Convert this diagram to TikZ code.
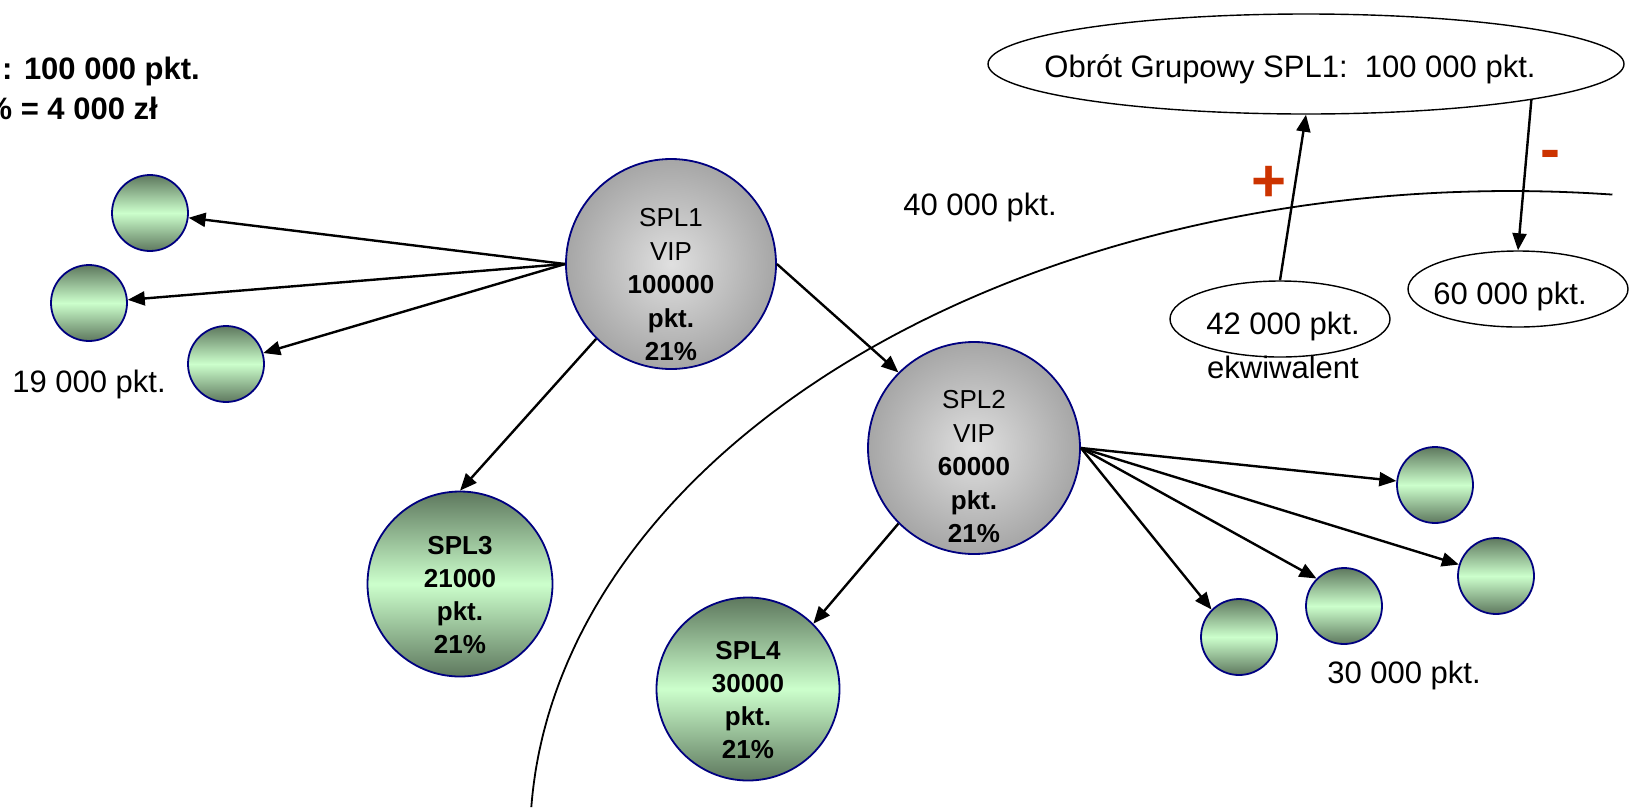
\documentclass[tikz,border=0pt]{standalone}
\usepackage{fontspec}
\setmainfont{Liberation Sans}
\usetikzlibrary{shapes.geometric,arrows.meta}
\definecolor{navyc}{RGB}{0,0,128}
\definecolor{gdark}{RGB}{94,120,94}
\definecolor{glight}{RGB}{204,255,204}
\definecolor{gin}{RGB}{224,224,224}
\definecolor{gout}{RGB}{166,166,166}
\definecolor{signred}{RGB}{204,51,0}
\pgfdeclareradialshading{grayshade}{\pgfpoint{0bp}{0bp}}{color(0bp)=(gin); color(25bp)=(gout); color(50bp)=(gout)}
\tikzset{
  greenball/.style={circle, draw=navyc, line width=1.8pt, top color=gdark, bottom color=gdark, middle color=glight, inner sep=0pt},
  grayball/.style={circle, draw=navyc, line width=1.8pt, shade, shading=grayshade, inner sep=0pt},
  conn/.style={line width=2.4pt, -{Triangle[length=17pt,width=14pt]}},
  oval/.style={ellipse, draw, line width=1.4pt, inner sep=0pt},
  lbl/.style={font=\fontsize{31}{37}\selectfont, inner sep=0pt},
  ctext/.style={align=center, font=\fontsize{26}{33.5}\selectfont, inner sep=0pt},
  toptext/.style={font=\fontsize{31}{37}\selectfont\bfseries, inner sep=0pt, anchor=east},
  sign/.style={font=\fontsize{60}{60}\selectfont\bfseries, text=signred, inner sep=0pt},
}
\begin{document}
\begin{tikzpicture}[x=1pt,y=-1pt]
\useasboundingbox (0,0) rectangle (1635,807);
% big arc
\draw[line width=1.8pt] plot[domain=84:177.1, samples=150] ({1510+980*cos(\x)}, {840-649*sin(\x)});
% top-left text (cut by the left edge)
\begin{scope}
\clip (0,0) rectangle (1635,807);
\node[toptext] (tl1) at (200,71) {: 100 000 pkt.};
\node[toptext] (tl2) at (158,108) {\% = 4 000 zł};
\end{scope}
% main circles
\node[grayball, minimum size=210pt] (s1) at (671,264) {};
\node[ctext] (s1t) at (671,285) {SPL1\\VIP\\\textbf{100000}\\\textbf{pkt.}\\\textbf{21\%}};
\node[grayball, minimum size=212pt] (s2) at (974,448) {};
\node[ctext] (s2t) at (974,467) {SPL2\\VIP\\\textbf{60000}\\\textbf{pkt.}\\\textbf{21\%}};
\node[greenball, minimum size=185pt] (s3) at (460,584) {};
\node[ctext, font=\fontsize{26}{33}\selectfont\bfseries] (s3t) at (460,595) {SPL3\\21000\\pkt.\\21\%};
\node[greenball, minimum size=183pt] (s4) at (748,689) {};
\node[ctext, font=\fontsize{26}{33}\selectfont\bfseries] (s4t) at (748,700) {SPL4\\30000\\pkt.\\21\%};
% small circles
\node[greenball, minimum size=76pt] (a) at (150,213) {};
\node[greenball, minimum size=76pt] (b) at (89,303) {};
\node[greenball, minimum size=76pt] (c) at (226,364) {};
\node[greenball, minimum size=76pt] (d) at (1435,485) {};
\node[greenball, minimum size=76pt] (e) at (1496,576) {};
\node[greenball, minimum size=76pt] (f) at (1344,606) {};
\node[greenball, minimum size=76pt] (g) at (1239,637) {};
% labels
\node[lbl] (l19) at (89,384) {19 000 pkt.};
\node[lbl] (l40) at (980,207) {40 000 pkt.};
\node[lbl] (l30) at (1404,675) {30 000 pkt.};
% ovals
\node[oval, minimum width=636pt, minimum height=100pt] (big) at (1306,64) {};
\node[lbl] (bigt) at (1290,69) {Obrót Grupowy SPL1:\ \ 100 000 pkt.};
\node[oval, minimum width=220pt, minimum height=76pt] (e42) at (1280,319) {};
\node[lbl] (e42t) at (1283,326) {42 000 pkt.};
\node[lbl] (e42u) at (1283,367) {ekwiwalent};
\node[oval, minimum width=220pt, minimum height=76pt] (e60) at (1518,289) {};
\node[lbl] (e60t) at (1510,296) {60 000 pkt.};
\node[sign] (plus) at (1269,184) {+};
\node[sign] (minus) at (1550,160) {-};
% connectors
\draw[conn] (s1.west) -- (a);
\draw[conn] (s1.west) -- (b);
\draw[conn] (s1.west) -- (c);
\draw[conn] (s1.225) -- (s3.north);
\draw[conn] (s1.east) -- (s2.135);
\draw[conn] (s2.225) -- (s4.45);
\draw[conn] (s2.east) -- (d);
\draw[conn] (s2.east) -- (e);
\draw[conn] (s2.east) -- (f.135);
\draw[conn] (s2.east) -- (g.135);
\draw[conn] (e42.north) -- (big.south);
\draw[conn] (big.south east) -- (e60.north);
\end{tikzpicture}
\end{document}
